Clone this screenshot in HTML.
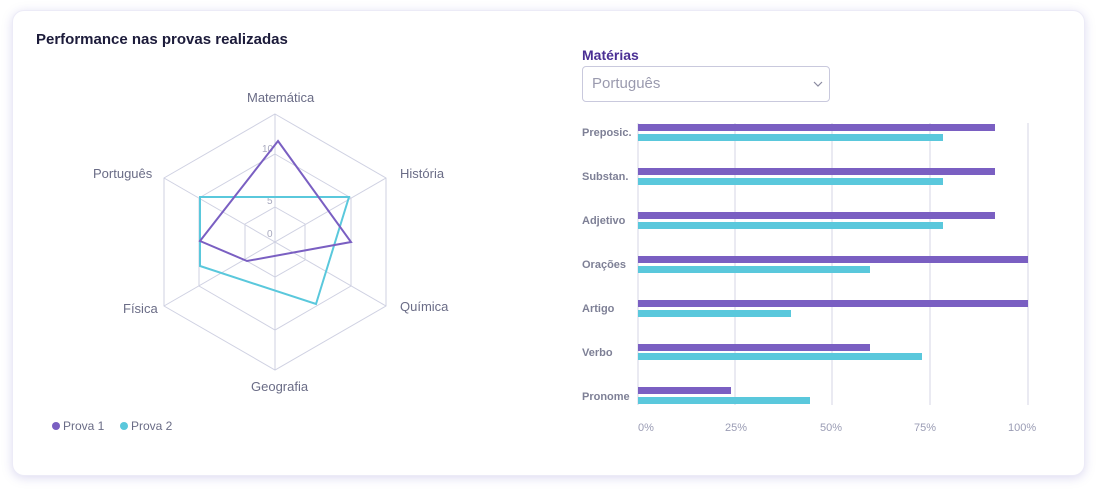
<!DOCTYPE html><html><head><style>
body{margin:0;width:1096px;height:492px;background:#fff;font-family:"Liberation Sans",sans-serif;position:relative;overflow:hidden}
.card{position:absolute;left:12px;top:10px;width:1071px;height:464px;border-radius:12px;background:#fff;box-shadow:0 2px 10px rgba(120,110,200,.25);border:1px solid #ecebf7}
.t{position:absolute;white-space:nowrap}
</style></head><body>
<div class="card"></div>
<div class="t" style="left:36px;top:31px;font-size:15px;font-weight:bold;color:#1c1b3a">Performance nas provas realizadas</div>
<div class="t" style="left:582px;top:47px;font-size:14px;font-weight:bold;color:#4a2f94">Matérias</div>
<div style="position:absolute;left:582px;top:66px;width:248px;height:36px;border:1px solid #c9c9dd;border-radius:4px;box-sizing:border-box"></div>
<div class="t" style="left:592px;top:75px;font-size:15px;color:#9a9aae">Português</div>
<svg style="position:absolute;left:0;top:0" width="1096" height="492">
<polyline points="814,82 818,86 822,82" fill="none" stroke="#8a8aa0" stroke-width="1.2"/>
<g fill="none" stroke="#cfd1e2" stroke-width="1">
<polygon points="275,114 386,178 386,306 275,370 164,306 164,178"/>
<polygon points="275,154 351,198 351,286 275,330 199,286 199,198"/>
<polygon points="275,207 305,224 305,260 275,277 245,260 245,224"/>
<line x1="275" y1="114" x2="275" y2="370"/><line x1="164" y1="178" x2="386" y2="306"/><line x1="386" y1="178" x2="164" y2="306"/>
</g>
<g font-size="10" fill="#a8a9bf" font-family="Liberation Sans"><text x="262" y="152">10</text><text x="267" y="204">5</text><text x="267" y="237">0</text></g>
<polygon points="200,197 349,197 316,304 200,266" fill="none" stroke="#5ac8dc" stroke-width="2"/>
<polygon points="278,141 351,242 247,261 200,241" fill="none" stroke="#7a5fc2" stroke-width="2"/>
<g font-size="13" fill="#6a6c86" font-family="Liberation Sans">
<text x="247" y="102">Matemática</text><text x="400" y="178">História</text><text x="93" y="178">Português</text>
<text x="400" y="311">Química</text><text x="123" y="313">Física</text><text x="251" y="391">Geografia</text></g>
<circle cx="56" cy="426" r="4" fill="#7a5fc2"/><circle cx="124" cy="426" r="4" fill="#5ac8dc"/>
<g font-size="12" fill="#6a6c86"><text x="63" y="430">Prova 1</text><text x="131" y="430">Prova 2</text></g>
<g stroke="#d4d5e4" stroke-width="1"><line x1="638" y1="123" x2="638" y2="405"/><line x1="735" y1="123" x2="735" y2="405"/><line x1="832" y1="123" x2="832" y2="405"/><line x1="930" y1="123" x2="930" y2="405"/><line x1="1028" y1="123" x2="1028" y2="405"/></g>
<g fill="#7a5fc2"><rect x="638" y="124" width="357" height="7"/><rect x="638" y="168" width="357" height="7"/><rect x="638" y="212" width="357" height="7"/><rect x="638" y="256" width="390" height="7"/><rect x="638" y="300" width="390" height="7"/><rect x="638" y="344" width="232" height="7"/><rect x="638" y="387" width="93" height="7"/></g>
<g fill="#5ac8dc"><rect x="638" y="134" width="305" height="7"/><rect x="638" y="178" width="305" height="7"/><rect x="638" y="222" width="305" height="7"/><rect x="638" y="266" width="232" height="7"/><rect x="638" y="310" width="153" height="7"/><rect x="638" y="353" width="284" height="7"/><rect x="638" y="397" width="172" height="7"/></g>
<g font-size="11" font-weight="bold" fill="#7e8096"><text x="582" y="136">Preposic.</text><text x="582" y="180">Substan.</text><text x="582" y="224">Adjetivo</text><text x="582" y="268">Orações</text><text x="582" y="312">Artigo</text><text x="582" y="356">Verbo</text><text x="582" y="400">Pronome</text></g>
<g font-size="11" fill="#9a9cb4"><text x="638" y="431">0%</text><text x="725" y="431">25%</text><text x="820" y="431">50%</text><text x="914" y="431">75%</text><text x="1008" y="431">100%</text></g>
</svg>
</body></html>
